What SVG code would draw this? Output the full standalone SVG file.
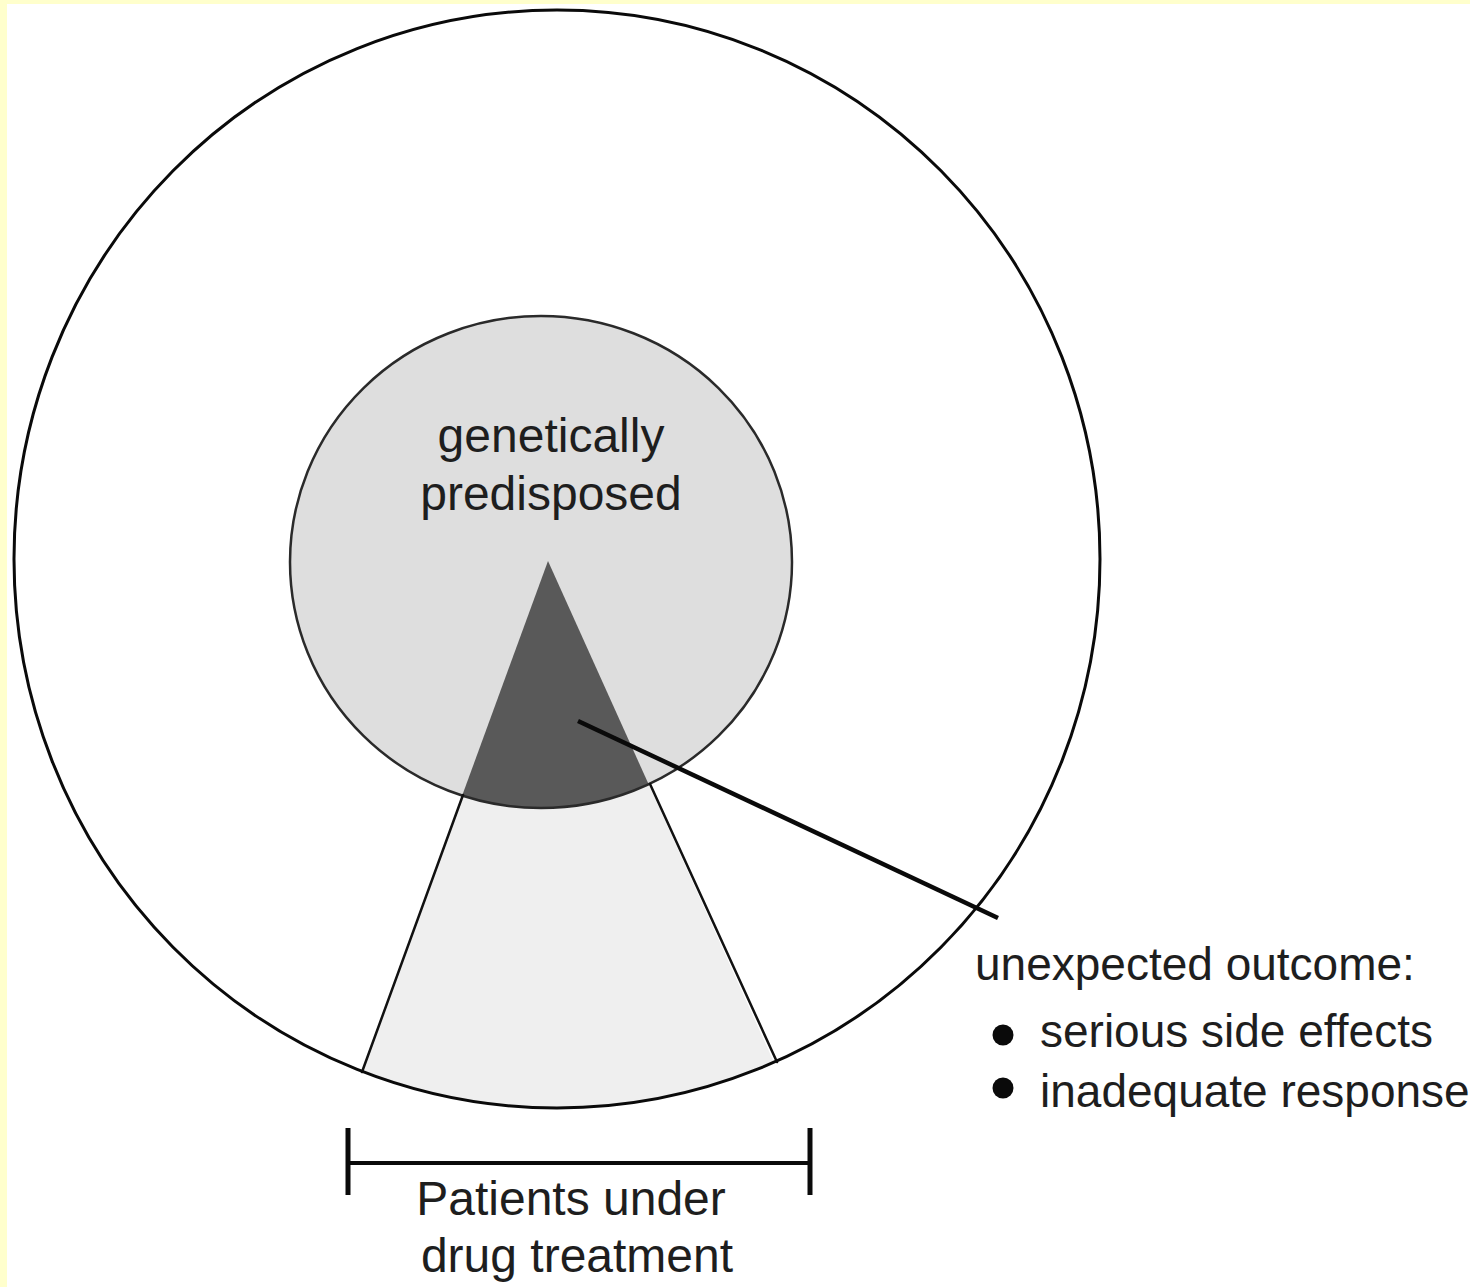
<svg xmlns="http://www.w3.org/2000/svg" width="1470" height="1287" viewBox="0 0 1470 1287">
<style>
.lbl{font-family:"Liberation Sans",Arial,sans-serif;fill:#1e1e1e}
.big{font-size:48px}
.side{font-size:46px}
.edge{stroke:#111;fill:none;stroke-linecap:round}
</style>
<defs>
<clipPath id="outerClip"><ellipse cx="557" cy="559" rx="543" ry="549"/></clipPath>
<clipPath id="innerClip"><ellipse cx="541" cy="562" rx="251" ry="246"/></clipPath>
</defs>
<rect x="0" y="0" width="1470" height="1287" fill="#ffffff"/>
<rect x="0" y="0" width="1470" height="4" fill="#ffffcc"/>
<rect x="0" y="0" width="7" height="1287" fill="#ffffcc"/>

<g id="population">
<ellipse cx="557" cy="559" rx="543" ry="549" fill="#ffffff"/>
<polygon points="548,561 177,1575 1005,1575" fill="#efefef" clip-path="url(#outerClip)"/>
</g>

<g id="predisposed">
<ellipse cx="541" cy="562" rx="251" ry="246" fill="#dedede"/>
<polygon points="548,561 177,1575 1005,1575" fill="#595959" clip-path="url(#innerClip)"/>
<ellipse cx="541" cy="562" rx="251" ry="246" fill="none" stroke="#2a2a2a" stroke-width="2.5"/>
<text class="lbl big" x="551" y="452" text-anchor="middle">genetically</text>
<text class="lbl big" x="551" y="510" text-anchor="middle">predisposed</text>
</g>

<g id="treated-wedge">
<line class="edge" x1="463" y1="795" x2="362" y2="1072" stroke-width="2.5"/>
<line class="edge" x1="650" y1="784" x2="777" y2="1062" stroke-width="2.5"/>
</g>

<g id="outer-ring">
<ellipse cx="557" cy="559" rx="543" ry="549" fill="none" stroke="#0a0a0a" stroke-width="3"/>
</g>

<g id="connectors">
<line x1="578" y1="721" x2="998" y2="918" stroke="#0a0a0a" stroke-width="4.5" stroke-linecap="butt"/>
</g>

<g id="outcome">
<text class="lbl side" x="975" y="980">unexpected outcome:</text>
<circle cx="1003" cy="1035" r="10.5" fill="#0a0a0a"/>
<text class="lbl side" x="1040" y="1047">serious side effects</text>
<circle cx="1003" cy="1088" r="10.5" fill="#0a0a0a"/>
<text class="lbl side" x="1040" y="1107">inadequate response</text>
</g>

<g id="treated-bracket">
<line x1="348" y1="1163" x2="810" y2="1163" stroke="#0a0a0a" stroke-width="4"/>
<line x1="348" y1="1128" x2="348" y2="1195" stroke="#0a0a0a" stroke-width="5"/>
<line x1="810" y1="1128" x2="810" y2="1195" stroke="#0a0a0a" stroke-width="5"/>
<text class="lbl big" x="571" y="1215" text-anchor="middle">Patients under</text>
<text class="lbl big" x="577" y="1272" text-anchor="middle">drug treatment</text>
</g>
</svg>
